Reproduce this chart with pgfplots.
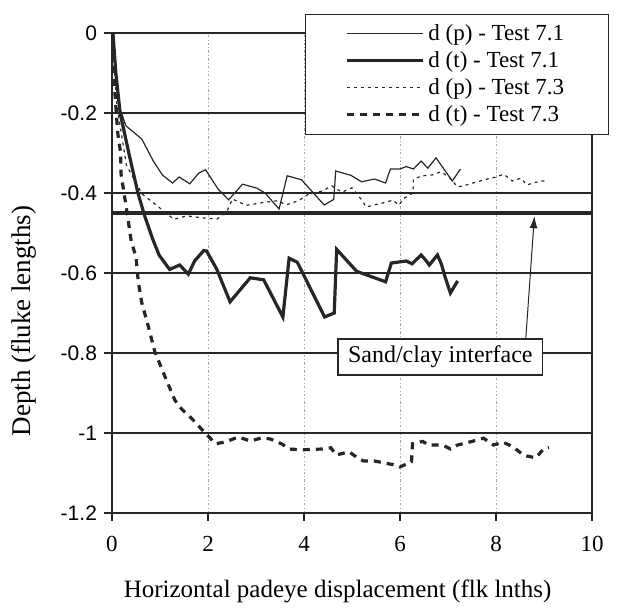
\documentclass[border=0pt]{standalone}
\usepackage{fontspec}
\setmainfont{Liberation Serif}
\setsansfont{Liberation Sans}
\usepackage{pgfplots}
\pgfplotsset{compat=1.18}
\usetikzlibrary{arrows.meta}

\definecolor{ink}{gray}{0.15}

\begin{document}
\begin{tikzpicture}
\begin{axis}[
  name=ax,
  width=240pt, height=240pt, scale only axis,
  xmin=0, xmax=10, ymin=-1.2, ymax=0,
  xtick={0,2,4,6,8,10},
  xticklabels={0,2,4,6,8,10},
  ytick={-1.2,-1,-0.8,-0.6,-0.4,-0.2,0},
  yticklabels={-1.2,-1,-0.8,-0.6,-0.4,-0.2,0},
  tick pos=left,
  tick align=outside,
  major tick length=4pt,
  tick style={ink, line width=0.6pt},
  axis line style={ink, line width=0.7pt},
  ymajorgrids, xmajorgrids,
  y grid style={ink, line width=0.6pt},
  x grid style={gray!70, line width=0.4pt, dash pattern=on 1.2pt off 1.2pt on 0.3pt off 1.2pt},
  xticklabel style={font=\fontsize{11.5}{12}\selectfont, yshift=-4pt},
  yticklabel style={font=\sffamily\fontsize{10.5}{12}\selectfont},
  xlabel={Horizontal padeye displacement (flk lnths)},
  ylabel={Depth (fluke lengths)},
  xlabel style={font=\fontsize{12.5}{14}\selectfont, at={(axis description cs:0.47,0)}, anchor=north, yshift=-30pt},
  ylabel style={font=\fontsize{13.5}{15}\selectfont, at={(axis description cs:-0.183,0.40)}, anchor=center},
  legend style={at={(rel axis cs:1.035,1.04)}, anchor=north east, draw=ink,
    line width=0.6pt, fill=white, font=\fontsize{11.5}{13}\selectfont,
    inner xsep=20pt, inner ysep=3pt, cells={anchor=west}},
  legend image code/.code={\draw[#1] (0pt,0pt) -- (38pt,0pt);},
]

% sand/clay interface
\addplot[ink, line width=1.6pt, forget plot] coordinates {(0,-0.45) (10,-0.45)};

\addplot[ink, line width=0.6pt] coordinates {
  (0.02,-0.01) (0.08,-0.1) (0.17,-0.19) (0.29,-0.232) (0.45,-0.248) (0.62,-0.265)
  (0.86,-0.32) (1.05,-0.355) (1.26,-0.375) (1.4,-0.36) (1.62,-0.377) (1.81,-0.35)
  (1.95,-0.342) (2.21,-0.39) (2.43,-0.417) (2.72,-0.378) (3.02,-0.388) (3.19,-0.4)
  (3.48,-0.44) (3.65,-0.357) (3.95,-0.367) (4.42,-0.43) (4.62,-0.416) (4.66,-0.345)
  (4.98,-0.356) (5.2,-0.372) (5.47,-0.365) (5.7,-0.375) (5.8,-0.34) (6.0,-0.34)
  (6.13,-0.334) (6.28,-0.34) (6.44,-0.32) (6.58,-0.338) (6.75,-0.312) (6.89,-0.336)
  (7.09,-0.37) (7.26,-0.34)
};
\addlegendentry{d (p) - Test 7.1}

\addplot[ink, line width=1.6pt] coordinates {
  (0.02,0) (0.08,-0.1) (0.17,-0.2) (0.35,-0.3) (0.54,-0.4) (0.68,-0.457)
  (0.85,-0.516) (0.98,-0.555) (1.2,-0.591) (1.41,-0.58) (1.59,-0.603) (1.72,-0.57)
  (1.91,-0.544) (1.97,-0.545) (2.18,-0.59) (2.46,-0.672) (2.88,-0.612) (3.16,-0.617)
  (3.56,-0.71) (3.69,-0.563) (3.86,-0.573) (4.43,-0.71) (4.63,-0.70) (4.68,-0.541)
  (5.1,-0.596) (5.7,-0.622) (5.82,-0.575) (6.13,-0.57) (6.25,-0.577) (6.44,-0.555)
  (6.55,-0.57) (6.61,-0.58) (6.78,-0.555) (6.86,-0.577) (6.94,-0.61) (7.05,-0.65)
  (7.2,-0.62)
};
\addlegendentry{d (t) - Test 7.1}

\addplot[ink, line width=0.6pt, dash pattern=on 1.5pt off 2pt] coordinates {
  (0.02,-0.03) (0.1,-0.18) (0.3,-0.33) (0.63,-0.403) (0.92,-0.43) (1.29,-0.466)
  (1.56,-0.457) (1.87,-0.462) (2.19,-0.465) (2.39,-0.447) (2.51,-0.415) (2.79,-0.431)
  (3.14,-0.424) (3.47,-0.419) (3.62,-0.43) (3.89,-0.419) (4.09,-0.403) (4.38,-0.395)
  (4.58,-0.382) (4.79,-0.398) (5.0,-0.387) (5.22,-0.42) (5.29,-0.435) (5.64,-0.425)
  (5.85,-0.418) (5.98,-0.43) (6.07,-0.414) (6.27,-0.40) (6.28,-0.365) (6.46,-0.357)
  (6.67,-0.355) (6.85,-0.347) (7.02,-0.36) (7.2,-0.385) (7.35,-0.381) (7.55,-0.374)
  (7.82,-0.365) (8.0,-0.36) (8.16,-0.353) (8.34,-0.37) (8.52,-0.363) (8.64,-0.38)
  (8.8,-0.374) (8.95,-0.37) (9.07,-0.37)
};
\addlegendentry{d (p) - Test 7.3}

\addplot[ink, line width=1.6pt, dash pattern=on 3.5pt off 3pt] coordinates {
  (0.02,-0.05) (0.06,-0.15) (0.12,-0.25) (0.18,-0.3) (0.19,-0.354) (0.29,-0.43)
  (0.4,-0.52) (0.5,-0.56) (0.55,-0.624) (0.62,-0.674) (0.76,-0.735) (0.89,-0.796)
  (1.09,-0.855) (1.31,-0.918) (1.45,-0.94) (1.67,-0.965) (1.94,-1.0) (2.16,-1.027)
  (2.37,-1.022) (2.63,-1.01) (2.88,-1.02) (3.13,-1.012) (3.3,-1.015) (3.55,-1.028)
  (3.68,-1.04) (3.98,-1.042) (4.14,-1.041) (4.39,-1.04) (4.56,-1.037) (4.67,-1.055)
  (4.94,-1.047) (5.09,-1.06) (5.24,-1.07) (5.47,-1.07) (5.68,-1.075) (5.89,-1.08)
  (6.0,-1.085) (6.24,-1.072) (6.26,-1.027) (6.47,-1.021) (6.6,-1.03) (6.89,-1.03)
  (7.05,-1.04) (7.2,-1.03) (7.47,-1.022) (7.74,-1.013) (7.95,-1.03) (8.15,-1.023)
  (8.36,-1.035) (8.58,-1.056) (8.83,-1.062) (8.99,-1.04) (9.1,-1.036)
};
\addlegendentry{d (t) - Test 7.3}

\node[draw=ink, line width=0.6pt, fill=white, inner xsep=5pt, inner ysep=3.5pt,
  font=\fontsize{12}{13}\selectfont] at (axis cs:6.84,-0.81) {Sand/clay interface};
\draw[ink, line width=0.5pt, -{Latex[length=6pt,width=4pt]}]
  (axis cs:8.62,-0.765) -- (axis cs:8.8,-0.458);
\end{axis}
\path ([shift={(-56pt,-49.5pt)}]ax.south west) rectangle ([shift={(17pt,16.5pt)}]ax.north east);
\end{tikzpicture}
\end{document}
